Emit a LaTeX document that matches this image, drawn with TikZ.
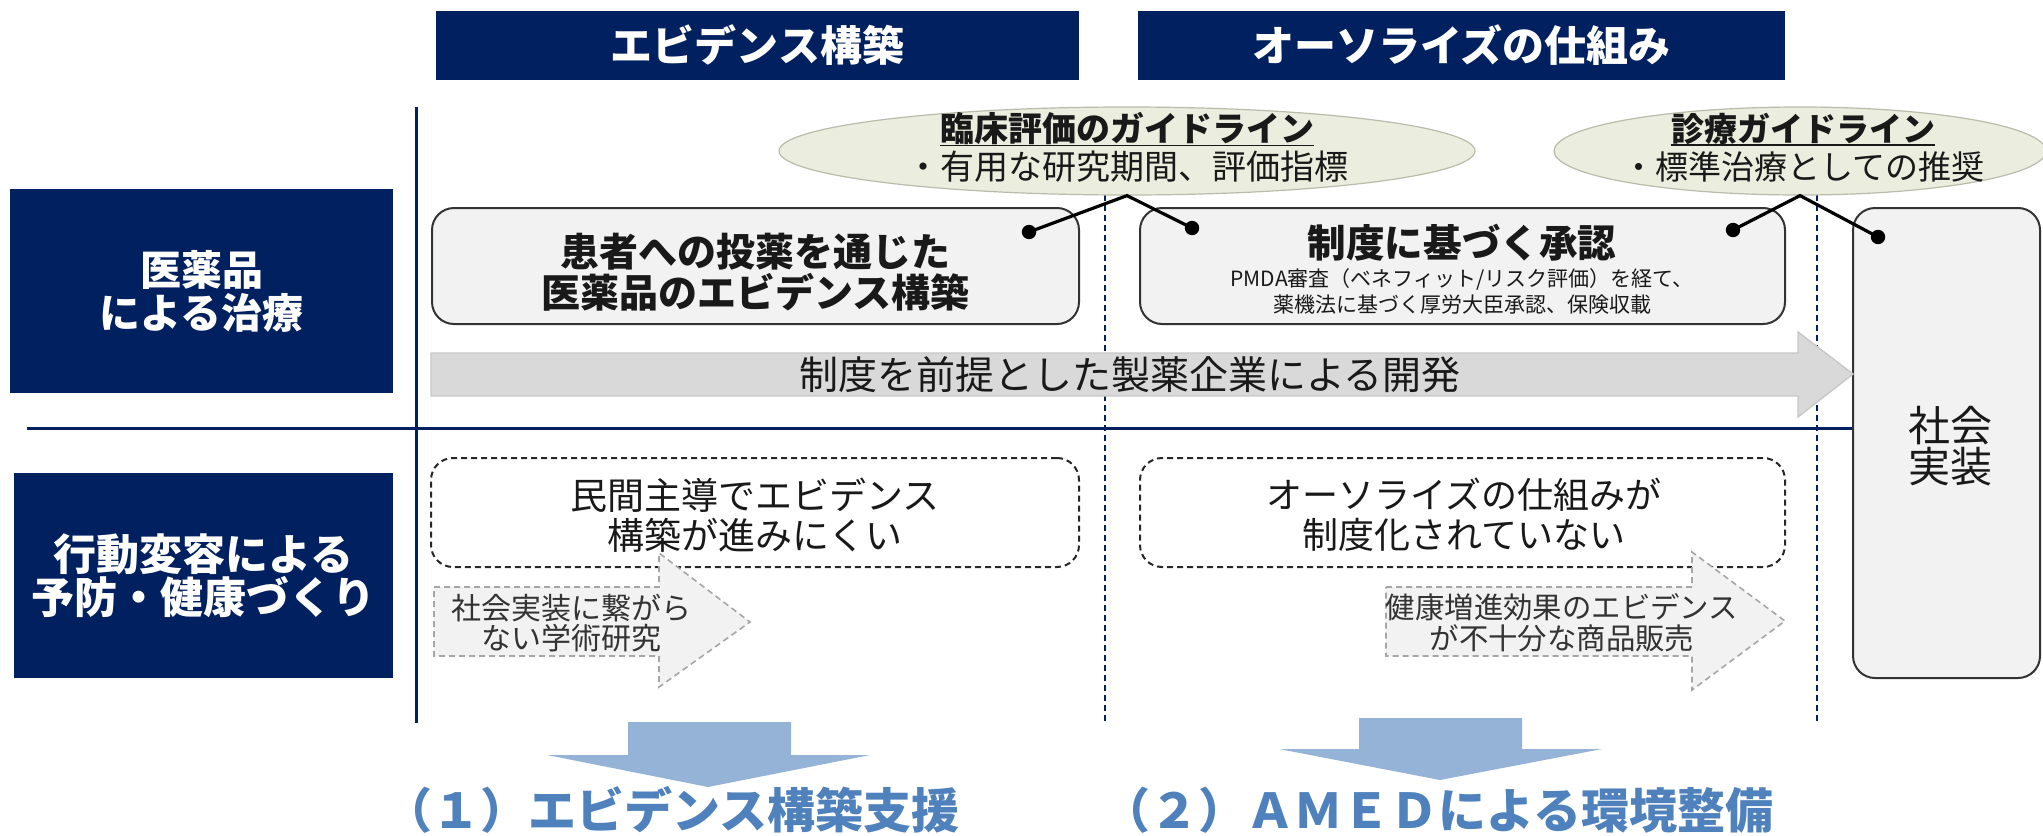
\documentclass[tikz,border=0pt]{standalone}
\usepackage{fontspec}
\setmainfont{Noto Sans CJK JP}
\usetikzlibrary{shapes.geometric}
\definecolor{navy}{RGB}{0,32,96}
\definecolor{boxfill}{RGB}{242,242,242}
\definecolor{ellfill}{RGB}{235,238,222}
\definecolor{ellline}{RGB}{185,188,170}
\definecolor{arrfill}{RGB}{217,217,217}
\definecolor{arrline}{RGB}{200,200,200}
\definecolor{smline}{RGB}{166,166,166}
\definecolor{bluearr}{RGB}{149,179,215}
\definecolor{bluetxt}{RGB}{79,129,189}
\newcommand{\myfs}[2]{\fontsize{#1}{#2}\selectfont}
\tikzset{
  navybox/.style={fill=navy, draw=none, inner sep=0pt, text=white},
  solidbox/.style={fill=boxfill, draw=black!80, line width=1pt, rounded corners=11pt, inner sep=0pt},
  dashbox/.style={draw=black!85, line width=1pt, dash pattern=on 3pt off 2pt, rounded corners=11pt, inner sep=0pt},
  ellbox/.style={ellipse, fill=ellfill, draw=ellline, line width=0.6pt, inner sep=0pt},
  sepline/.style={draw=navy, line width=1.5pt},
  dashsep/.style={draw=navy, line width=0.8pt, dash pattern=on 3pt off 2pt},
  bigarrow/.style={fill=arrfill, draw=arrline, line width=0.7pt},
  smallarrow/.style={fill=boxfill, draw=smline, line width=0.8pt, dash pattern=on 3pt off 2pt},
  bluearrow/.style={fill=bluearr, draw=none},
  conn/.style={draw=black, line width=1.6pt},
  txt/.style={inner sep=0pt, align=center, text=black!90},
  uline/.style={draw=black!90, line width=0.8pt},
}
\begin{document}
\begin{tikzpicture}[x=0.5pt,y=-0.5pt]
\useasboundingbox (0,0) rectangle (2043,835);

% headers
\node[navybox, minimum width=321.5pt, minimum height=34.5pt, font=\bfseries\myfs{21pt}{24pt}] (h1) at (757.5,45.5) {エビデンス構築};
\node[navybox, minimum width=323.5pt, minimum height=34.5pt, font=\bfseries\myfs{21pt}{24pt}] (h2) at (1461.5,45.5) {オーソライズの仕組み};

% left category boxes
\node[navybox, minimum width=191.5pt, minimum height=102pt, align=center, font=\bfseries\myfs{20.5pt}{21.5pt}] (l1) at (201.5,291) {医薬品\\による治療};
\node[navybox, minimum width=189.5pt, minimum height=102.5pt, align=center, font=\bfseries\myfs{21.5pt}{21.5pt}] (l2) at (203.5,575.5) {行動変容による\\予防・健康づくり};

% separator lines
\coordinate (vtop) at (416,107);
\coordinate (vbot) at (416,723);
\coordinate (hl) at (27,428);
\coordinate (hr) at (1853,428);
\draw[sepline] (vtop) -- (vbot);
\draw[sepline] (hl) -- (hr);
\coordinate (d1top) at (1105,195);
\coordinate (d1bot) at (1105,723);
\coordinate (d2top) at (1817,195);
\coordinate (d2bot) at (1817,723);
\draw[dashsep] (d1top) -- (d1bot);
\draw[dashsep] (d2top) -- (d2bot);

% upper boxes
\node[solidbox, minimum width=323.5pt, minimum height=58pt] (b1) at (755.5,266) {};
\node[txt, font=\bfseries\myfs{19.5pt}{20.5pt}] (b1t) at (755.5,272) {患者への投薬を通じた\\医薬品のエビデンス構築};
\node[solidbox, minimum width=322.5pt, minimum height=58pt] (b2) at (1462.5,266) {};
\node[txt, font=\bfseries\myfs{19.3pt}{20pt}] (b2t) at (1462,243) {制度に基づく承認};
\node[txt, font=\myfs{10.5pt}{13pt}] (b2s) at (1462,291) {PMDA審査（ベネフィット/リスク評価）を経て、\\薬機法に基づく厚労大臣承認、保険収載};

% social implementation box
\node[solidbox, minimum width=93.5pt, minimum height=235pt] (soc) at (1946.5,443) {};
\node[txt, font=\myfs{21pt}{19pt}] (soct) at (1950,446) {社会\\実装};

% big gray arrow
\path[bigarrow] (431,353) -- (1798,353) -- (1798,332) -- (1853,374) -- (1798,417) -- (1798,396) -- (431,396) -- cycle;
\node[txt, font=\myfs{19.5pt}{20pt}] (ga) at (1130,375) {制度を前提とした製薬企業による開発};

% ellipses
\node[ellbox, minimum width=348pt, minimum height=44pt] (e1) at (1127,151) {};
\node[txt, font=\bfseries\myfs{17pt}{19.5pt}] (e1a) at (1127,129) {臨床評価のガイドライン};
\node[txt, font=\myfs{17pt}{19.5pt}] (e1b) at (1127,167) {・有用な研究期間、評価指標};
\draw[uline] (e1a.south west) -- (e1a.south east);
\node[ellbox, minimum width=246pt, minimum height=44pt] (e2) at (1800,151) {};
\node[txt, font=\bfseries\myfs{16.5pt}{19.5pt}] (e2a) at (1803,129) {診療ガイドライン};
\node[txt, font=\myfs{16.5pt}{19.5pt}] (e2b) at (1803,167) {・標準治療としての推奨};
\draw[uline] (e2a.south west) -- (e2a.south east);

% connectors
\coordinate (c1a) at (1029,232);
\coordinate (c1b) at (1192,228);
\coordinate (c2a) at (1733,230);
\coordinate (c2b) at (1878,237);
\draw[conn] (c1a) -- (e1.south) -- (c1b);
\draw[conn] (c2a) -- (e2.south) -- (c2b);
\fill (c1a) circle[radius=3.6pt];
\fill (c1b) circle[radius=3.6pt];
\fill (c2a) circle[radius=3.6pt];
\fill (c2b) circle[radius=3.6pt];

% dashed boxes
\node[dashbox, minimum width=324pt, minimum height=54.5pt] (d1) at (755,512.5) {};
\node[txt, font=\myfs{18.5pt}{20pt}] (d1t) at (755,515) {民間主導でエビデンス\\構築が進みにくい};
\node[dashbox, minimum width=322.5pt, minimum height=54.5pt] (d2) at (1462.5,512.5) {};
\node[txt, font=\myfs{18pt}{20pt}] (d2t) at (1464,515) {オーソライズの仕組みが\\制度化されていない};

% small dashed arrows
\path[smallarrow] (434,587) -- (659,587) -- (659,553) -- (750,622) -- (659,687) -- (659,656) -- (434,656) -- cycle;
\node[txt, font=\myfs{15pt}{15pt}, text=black!80] (s1t) at (571,623) {社会実装に繋がら\\ない学術研究};
\path[smallarrow] (1386,587) -- (1692,587) -- (1692,552) -- (1785,621) -- (1692,690) -- (1692,656) -- (1386,656) -- cycle;
\node[txt, font=\myfs{14.7pt}{15.5pt}, text=black!80] (s2t) at (1562,623) {健康増進効果のエビデンス\\が不十分な商品販売};

% blue down arrows
\path[bluearrow] (628,722) -- (791,722) -- (791,755) -- (870,755) -- (708,787) -- (547,755) -- (628,755) -- cycle;
\path[bluearrow] (1359,718) -- (1522,718) -- (1522,749) -- (1602,749) -- (1440,780) -- (1279,749) -- (1359,749) -- cycle;

% bottom labels
\node[inner sep=0pt, anchor=base, text=bluetxt, font=\bfseries\myfs{24pt}{26pt}] (r1) at (672,828) {（１）エビデンス構築支援};
\node[inner sep=0pt, anchor=base, text=bluetxt, font=\bfseries\myfs{24pt}{26pt}] (r2) at (1438,828) {（２）ＡＭＥＤによる環境整備};
\end{tikzpicture}
\end{document}
